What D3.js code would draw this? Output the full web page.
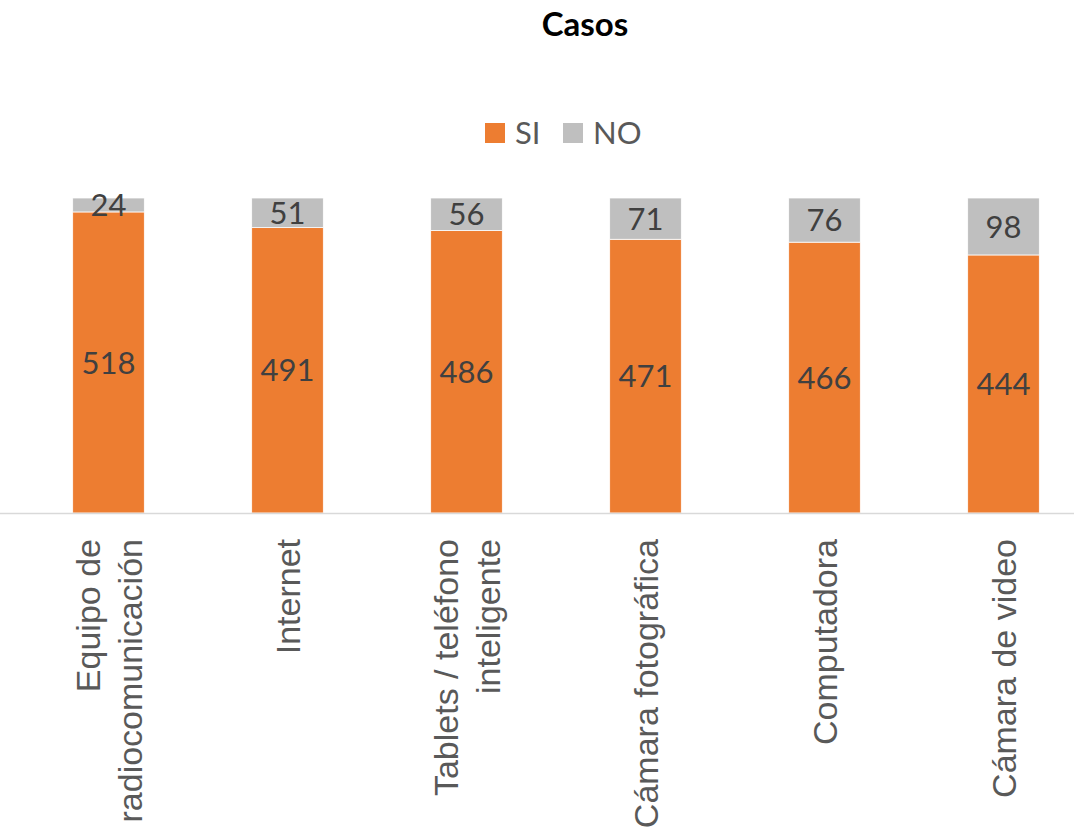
<!DOCTYPE html>
<html>
<head>
<meta charset="utf-8">
<script src="https://cdn.jsdelivr.net/npm/d3@7/dist/d3.min.js"></script>
<style>
  html, body { margin: 0; padding: 0; background: #fff; }
  svg { display: block; }
</style>
</head>
<body>
<svg id="chart" width="1074" height="827"></svg>
<script>
// Categories (each label may span several lines)
const categories = [
  ["Equipo de", "radiocomunicación"],
  ["Internet"],
  ["Tablets / teléfono", "inteligente"],
  ["Cámara fotográfica"],
  ["Computadora"],
  ["Cámara de video"]
];
const siValues = [518, 491, 486, 471, 466, 444];
const noValues = [24, 51, 56, 71, 76, 98];
const seriesNames = ["SI", "NO"];
const seriesColors = ["#ED7D31", "#BFBFBF"];
const chartTitle = "Casos";

const W = 1074, H = 827;
const svg = d3.select("#chart");

const keys = categories.map((c, i) => i);
const rows = keys.map(i => ({ idx: i, SI: siValues[i], NO: noValues[i] }));

const x = d3.scaleBand()
  .domain(keys)
  .range([19, 1093])
  .paddingInner(0.6)
  .paddingOuter(0.3);

const y = d3.scaleLinear()
  .domain([0, 542])
  .range([513, 198]);

const stack = d3.stack().keys(seriesNames);
const layers = stack(rows);

// Stacked bars
const layerG = svg.append("g").selectAll("g")
  .data(layers)
  .join("g")
  .attr("fill", (d, i) => seriesColors[i]);

layerG.selectAll("rect")
  .data(d => d)
  .join("rect")
  .attr("x", d => x(d.data.idx))
  .attr("width", x.bandwidth())
  .attr("y", d => y(d[1]))
  .attr("height", d => y(d[0]) - y(d[1]))
  .attr("stroke", "#fff")
  .attr("stroke-width", 0.75);

// Value labels centred in each segment
layerG.selectAll("text")
  .data(d => d)
  .join("text")
  .attr("x", d => x(d.data.idx) + x.bandwidth() / 2)
  .attr("y", d => (y(d[0]) + y(d[1])) / 2)
  .attr("dy", "0.36em")
  .attr("text-anchor", "middle")
  .attr("font-family", "Lato, 'Open Sans', sans-serif")
  .attr("font-size", 31)
  .attr("fill", "#404040")
  .text(d => d[1] - d[0]);

// Category axis line
svg.append("line")
  .attr("x1", 0).attr("x2", W)
  .attr("y1", y(0) + 0.5).attr("y2", y(0) + 0.5)
  .attr("stroke", "#D9D9D9")
  .attr("stroke-width", 1.5);

// Rotated category labels
const lineGap = 42;
const catG = svg.append("g");
categories.forEach((lines, i) => {
  const cx = x(i) + x.bandwidth() / 2;
  const n = lines.length;
  lines.forEach((ln, j) => {
    const off = (j - (n - 1) / 2) * lineGap;
    catG.append("text")
      .attr("transform", `translate(${cx + off},539) rotate(-90)`)
      .attr("text-anchor", "end")
      .attr("dy", "0.36em")
      .attr("font-family", "'Liberation Sans', Arial, sans-serif")
      .attr("font-size", 34)
      .attr("fill", "#595959")
      .text(ln);
  });
});

// Title
svg.append("text")
  .attr("x", 585)
  .attr("y", 36)
  .attr("text-anchor", "middle")
  .attr("font-family", "Lato, sans-serif")
  .attr("font-weight", "bold")
  .attr("font-size", 33)
  .attr("fill", "#000")
  .text(chartTitle);

// Legend
const legendItems = [
  { name: seriesNames[0], color: seriesColors[0], x: 485 },
  { name: seriesNames[1], color: seriesColors[1], x: 563 }
];
const lg = svg.append("g");
legendItems.forEach(it => {
  lg.append("rect")
    .attr("x", it.x).attr("y", 123)
    .attr("width", 20).attr("height", 20)
    .attr("fill", it.color);
  lg.append("text")
    .attr("x", it.x + 30)
    .attr("y", 133)
    .attr("dy", "0.36em")
    .attr("font-family", "Lato, sans-serif")
    .attr("font-size", 31)
    .attr("fill", "#595959")
    .text(it.name);
});
</script>
</body>
</html>
